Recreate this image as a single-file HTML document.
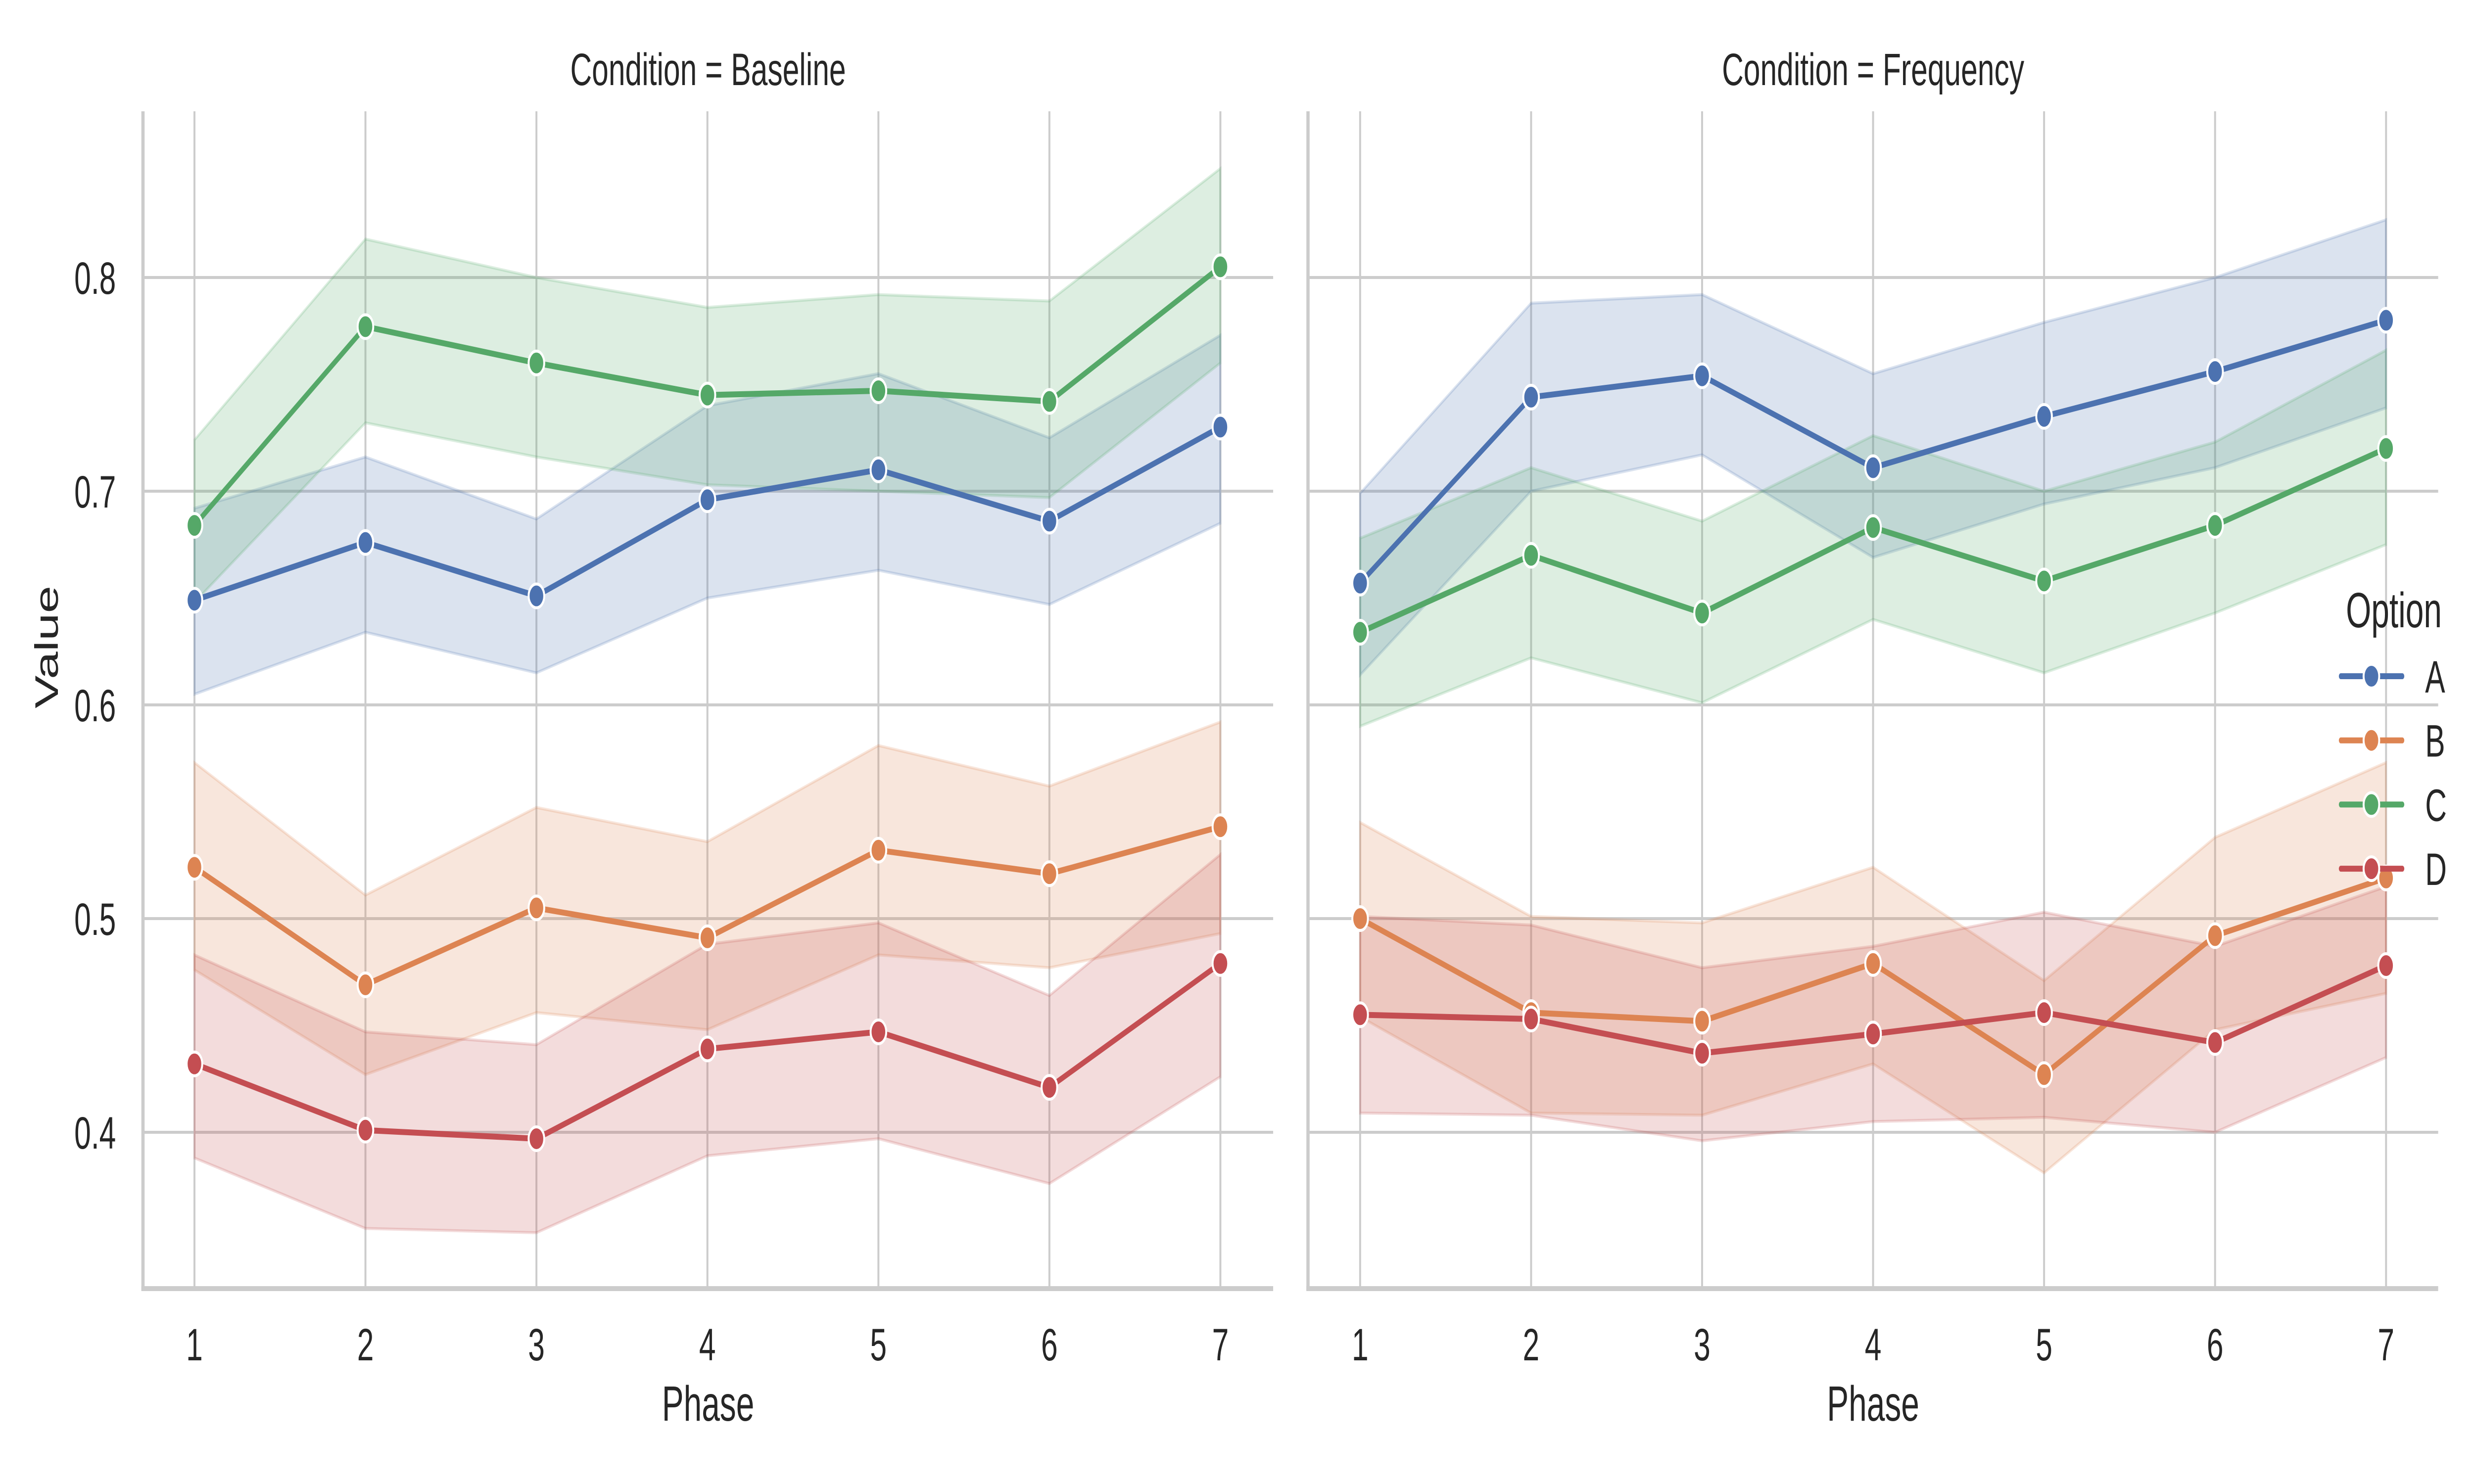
<!DOCTYPE html>
<html><head><meta charset="utf-8">
<style>
html,body{margin:0;padding:0;background:#fff;overflow:hidden;width:100%;height:100%;}
svg{display:block;font-family:"Liberation Sans",Arial,sans-serif;width:100vw;height:100vh;}
</style></head>
<body>
<svg id="chart" viewBox="0 0 7596 3000" preserveAspectRatio="none" xmlns="http://www.w3.org/2000/svg">
<rect width="7596" height="3000" fill="#ffffff"/>
</svg>
<script>
const phases = [1,2,3,4,5,6,7];
const options = ["A","B","C","D"];
const yTicks = [0.4,0.5,0.6,0.7,0.8];
const yTickLabels = ["0.4","0.5","0.6","0.7","0.8"];
const panelTitles = ["Condition = Baseline","Condition = Frequency"];

// Baseline
const baseA = [0.649,0.676,0.651,0.696,0.710,0.686,0.730];
const baseA_lo = [0.605,0.634,0.615,0.650,0.663,0.647,0.685];
const baseA_hi = [0.692,0.716,0.687,0.740,0.755,0.725,0.773];
const baseB = [0.524,0.469,0.505,0.491,0.532,0.521,0.543];
const baseB_lo = [0.476,0.427,0.456,0.448,0.483,0.477,0.493];
const baseB_hi = [0.573,0.511,0.552,0.536,0.581,0.562,0.592];
const baseC = [0.684,0.777,0.760,0.745,0.747,0.742,0.805];
const baseC_lo = [0.648,0.732,0.716,0.703,0.700,0.697,0.760];
const baseC_hi = [0.724,0.818,0.800,0.786,0.792,0.789,0.851];
const baseD = [0.432,0.401,0.397,0.439,0.447,0.421,0.479];
const baseD_lo = [0.388,0.355,0.353,0.389,0.397,0.376,0.426];
const baseD_hi = [0.483,0.447,0.441,0.488,0.498,0.464,0.530];
// Frequency
const freqA = [0.657,0.744,0.754,0.711,0.735,0.756,0.780];
const freqA_lo = [0.614,0.700,0.717,0.669,0.694,0.711,0.739];
const freqA_hi = [0.699,0.788,0.792,0.755,0.779,0.800,0.827];
const freqB = [0.500,0.456,0.452,0.479,0.427,0.492,0.519];
const freqB_lo = [0.454,0.409,0.408,0.432,0.381,0.448,0.465];
const freqB_hi = [0.545,0.501,0.498,0.524,0.471,0.538,0.573];
const freqC = [0.634,0.670,0.643,0.683,0.658,0.684,0.720];
const freqC_lo = [0.590,0.622,0.601,0.640,0.615,0.643,0.675];
const freqC_hi = [0.678,0.711,0.686,0.726,0.700,0.723,0.766];
const freqD = [0.455,0.453,0.437,0.446,0.456,0.442,0.478];
const freqD_lo = [0.409,0.408,0.396,0.405,0.407,0.400,0.435];
const freqD_hi = [0.501,0.497,0.477,0.487,0.503,0.487,0.515];

const colors = ["#4c72b0","#dd8452","#55a868","#c44e52"];
const panelsData = [
  [[baseA,baseA_lo,baseA_hi],[baseB,baseB_lo,baseB_hi],[baseC,baseC_lo,baseC_hi],[baseD,baseD_lo,baseD_hi]],
  [[freqA,freqA_lo,freqA_hi],[freqB,freqB_lo,freqB_hi],[freqC,freqC_lo,freqC_hi],[freqD,freqD_lo,freqD_hi]]
];

const NS = "http://www.w3.org/2000/svg";
const svgEl = document.getElementById("chart");
function mk(tag, attrs, parent){
  const e = document.createElementNS(NS, tag);
  for (const k in attrs) e.setAttribute(k, attrs[k]);
  (parent||svgEl).appendChild(e);
  return e;
}
const panels = [{left:439,right:3909,x1:597,x7:3747},{left:4016,right:7486,x1:4176,x7:7326}];
const plotTop = 225, plotBottom = 2605;
function yScale(v){ return 561 + (0.8 - v) * 4320; }
function xScale(p, i){ const P = panels[p]; return P.x1 + (i - phases[0]) * (P.x7 - P.x1) / (phases[phases.length-1]-phases[0]); }

panels.forEach((P, p) => {
  const g = mk("g", {});
  
  
  yTicks.forEach((t, k) => {
    const l = mk("line", {x1:P.left, x2:P.right, y1:yScale(t), y2:yScale(t), stroke:"#cccccc", "stroke-width":6}, g);
    
    
    if (p === 0) {
      const tx = mk("text", {x:356, y:yScale(t)+33, "text-anchor":"end", "font-size":92, fill:"#262626"}, g);
      tx.textContent = yTickLabels[k];
      
      
    }
  });
  phases.forEach(ph => {
    const x = xScale(p, ph);
    const l = mk("line", {x1:x, x2:x, y1:plotTop, y2:plotBottom, stroke:"#cccccc", "stroke-width":6}, g);
    
    
    const tx = mk("text", {x:x, y:2750, "text-anchor":"middle", "font-size":92, fill:"#262626"}, g);
    tx.textContent = String(ph);
    
    
  });
  const sl = mk("line", {x1:P.left, x2:P.left, y1:plotTop, y2:plotBottom+4, stroke:"#cccccc", "stroke-width":10}, g);
  
  
  const sb = mk("line", {x1:P.left-5, x2:P.right, y1:plotBottom, y2:plotBottom, stroke:"#cccccc", "stroke-width":10}, g);
  
  
  const tt = mk("text", {x:(P.left+P.right)/2, y:172, "text-anchor":"middle", "font-size":92, fill:"#262626"}, g);
  tt.textContent = panelTitles[p];
  
  
  const xl = mk("text", {x:(P.left+P.right)/2, y:2872, "text-anchor":"middle", "font-size":100, fill:"#262626"}, g);
  xl.textContent = "Phase";
  
  
  panelsData[p].forEach((s, si) => {
    const lo = s[1], hi = s[2];
    let pts = [];
    phases.forEach((ph, i) => pts.push(xScale(p, ph) + "," + yScale(hi[i])));
    for (let i = phases.length-1; i >= 0; i--) pts.push(xScale(p, phases[i]) + "," + yScale(lo[i]));
    const band = mk("polygon", {points:pts.join(" "), fill:colors[si], "fill-opacity":0.2, stroke:colors[si], "stroke-opacity":0.2, "stroke-width":6}, g);
    
    
  });
  panelsData[p].forEach((s, si) => {
    const m = s[0];
    const pts = phases.map((ph, i) => xScale(p, ph) + "," + yScale(m[i])).join(" ");
    const ln = mk("polyline", {points:pts, fill:"none", stroke:colors[si], "stroke-width":12, "stroke-linecap":"round", "stroke-linejoin":"round"}, g);
    
    
    phases.forEach((ph, i) => {
      const c = mk("circle", {cx:xScale(p, ph), cy:yScale(m[i]), r:24, fill:colors[si], stroke:"#ffffff", "stroke-width":6}, g);
      
      
    });
  });
});

const yt = mk("text", {x:0, y:0, transform:"translate(178,1308) rotate(-90)", "text-anchor":"middle", "font-size":100, fill:"#262626"});
yt.textContent = "Value";



const lg = mk("g", {});


const lt = mk("text", {x:7350, y:1268, "text-anchor":"middle", "font-size":100, fill:"#262626"}, lg);
lt.textContent = "Option";


options.forEach((o, i) => {
  const y = 1367 + i * 129.7;
  const e = mk("g", {}, lg);
  
  
  mk("line", {x1:7187, x2:7376, y1:y, y2:y, stroke:colors[i], "stroke-width":12, "stroke-linecap":"round"}, e);
  mk("circle", {cx:7281, cy:y, r:24, fill:colors[i], stroke:"#ffffff", "stroke-width":6}, e);
  const t = mk("text", {x:7446, y:y+33, "font-size":92, fill:"#262626"}, e);
  t.textContent = o;
});
</script>
</body></html>
